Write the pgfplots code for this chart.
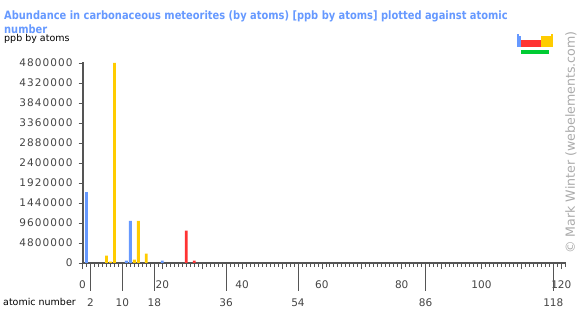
\documentclass[border=0pt]{standalone}
\usepackage{fontspec}
\setmainfont{DejaVu Sans}
\usepackage{pgfplots}
\pgfplotsset{compat=1.18}
\definecolor{sblue}{RGB}{102,153,255}
\definecolor{pyellow}{RGB}{255,204,0}
\definecolor{dred}{RGB}{255,51,51}
\definecolor{fgreen}{RGB}{0,204,51}
\definecolor{axgray}{RGB}{85,85,85}
\definecolor{lblgray}{RGB}{68,68,68}
\definecolor{cgray}{RGB}{170,170,170}
\begin{document}
\begin{tikzpicture}
\useasboundingbox (0pt,0pt) rectangle (580pt,315pt);
\node[anchor=base west, inner sep=0, text=sblue, font=\bfseries\fontsize{11.5}{14}\selectfont] at (4pt,295.5pt) {\scalebox{0.86}[1]{Abundance in carbonaceous meteorites (by atoms) [ppb by atoms] plotted against atomic}};
\node[anchor=base west, inner sep=0, text=sblue, font=\bfseries\fontsize{11.5}{14}\selectfont] at (4pt,281.5pt) {\scalebox{0.86}[1]{number}};
\node[anchor=base west, inner sep=0, font=\fontsize{9.5}{11}\selectfont] at (4pt,273.5pt) {ppb by atoms};
\node[anchor=base west, inner sep=0, font=\fontsize{9.5}{11}\selectfont] at (3pt,9.5pt) {atomic number};
\node[rotate=90, inner sep=0, text=cgray, font=\fontsize{12.6}{14}\selectfont] at (571pt,172.5pt) {© Mark Winter (webelements.com)};
% periodic table icon
\fill[sblue] (517pt,267.7pt) rectangle (519pt,281pt);
\fill[sblue] (519pt,267.7pt) rectangle (521pt,279pt);
\fill[dred] (520.7pt,267.7pt) rectangle (541pt,275pt);
\fill[pyellow] (541pt,267.7pt) rectangle (551pt,279pt);
\fill[pyellow] (551pt,267.7pt) rectangle (552.7pt,281pt);
\fill[fgreen] (521pt,261.3pt) rectangle (549pt,265pt);
\begin{axis}[
  at={(82.5pt,52pt)}, anchor=south west,
  scale only axis, width=483.6pt, height=201pt,
  xmin=0, xmax=121.2, ymin=0, ymax=10.05,
  axis x line*=bottom, axis y line*=left,
  axis line style={axgray, line width=2pt},
  tick align=outside,
  tick style={axgray, line width=0.8pt},
  xtick={0,10,...,120},
  xticklabels={0,,20,,40,,60,,80,,100,,120},
  minor xtick={0,1,...,121},
  major tick length=6.5pt, minor tick length=3.8pt,
  xticklabel style={yshift=-8pt},
  extra x ticks={2,10,18,36,54,86,118},
  extra x tick labels={2,10,18,36,54,86,118},
  extra x tick style={major tick length=28pt, xticklabel style={yshift=4pt}},
  ytick={0,1,...,10},
  minor ytick={0,1,...,10},
  every major y tick/.append style={draw=none},
  yticklabels={0,4800000,9600000,1440000,1920000,2400000,2880000,3360000,3840000,4320000,4800000},
  ticklabel style={text=lblgray, font=\fontsize{10.5}{12}\selectfont},
  yticklabel style={font=\addfontfeatures{LetterSpace=10}\fontsize{10.5}{12}\selectfont},
  clip=false,
]
\addplot[ybar, bar width=2.8pt, bar shift=0pt, fill=sblue, draw=none] coordinates {(1,3.54) (11,0.12) (12,2.1) (20,0.12)};
\addplot[ybar, bar width=2.8pt, bar shift=0pt, fill=pyellow, draw=none] coordinates {(6,0.37) (7,0.07) (8,10.0) (13,0.17) (14,2.1) (16,0.47)};
\addplot[ybar, bar width=2.8pt, bar shift=0pt, fill=dred, draw=none] coordinates {(26,1.62) (28,0.12)};
\end{axis}
\end{tikzpicture}
\end{document}
